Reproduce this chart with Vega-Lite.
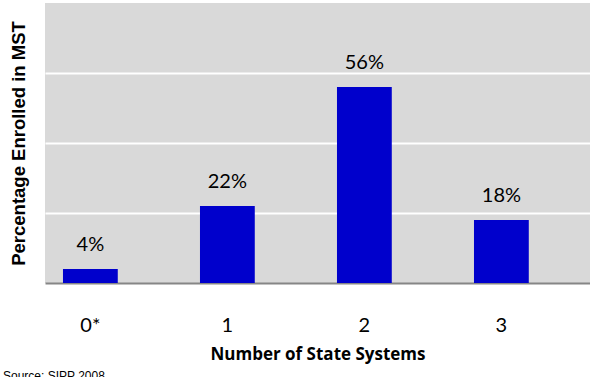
{
  "$schema": "https://vega.github.io/schema/vega-lite/v6.json",
  "width": 545,
  "height": 280,
  "autosize": "none",
  "padding": {"left": 45, "top": 3, "right": 0, "bottom": 94},
  "background": "white",
  "config": {"view": {"fill": "#d9d9d9", "stroke": null}},
  "title": {"text": "Source: SIPP 2008", "orient": "bottom", "anchor": "start", "frame": "group", "dx": -42, "offset": 9, "font": "Liberation Sans", "fontSize": 12, "fontWeight": "normal", "color": "#000000"},
  "data": {"values": [
    {"systems": "0*", "pct": 0.04},
    {"systems": "1", "pct": 0.22},
    {"systems": "2", "pct": 0.56},
    {"systems": "3", "pct": 0.18}
  ]},
  "encoding": {
    "x": {
      "field": "systems", "type": "nominal", "sort": null,
      "scale": {"paddingInner": 0.6, "paddingOuter": 0.289, "align": 0.227},
      "axis": {
        "title": "Number of State Systems",
        "labelAngle": 0, "domain": true, "domainColor": "#868686", "domainWidth": 2,
        "ticks": false, "labelPadding": 32, "labelFont": "Lato", "labelFontSize": 20, "labelColor": "#000000",
        "titleFont": "Open Sans", "titleFontSize": 17, "titleFontWeight": "bold", "titleColor": "#000000", "titlePadding": 11
      }
    },
    "y": {
      "field": "pct", "type": "quantitative",
      "scale": {"domain": [0, 0.8], "nice": false},
      "axis": {
        "title": "Percentage Enrolled in MST",
        "values": [0.2, 0.4, 0.6], "labels": false, "ticks": false, "domain": false,
        "grid": true, "gridColor": "#ffffff", "gridWidth": 2, "gridOpacity": 1,
        "titleFont": "Liberation Sans", "titleFontSize": 18.5, "titleFontWeight": "bold", "titleColor": "#000000", "titlePadding": 17
      }
    }
  },
  "layer": [
    {"mark": {"type": "bar", "color": "#0000cc"}},
    {"mark": {"type": "text", "baseline": "bottom", "dy": -14, "font": "Lato", "fontSize": 20, "color": "#000000"},
     "encoding": {"text": {"field": "pct", "type": "quantitative", "format": ".0%"}}}
  ]
}
